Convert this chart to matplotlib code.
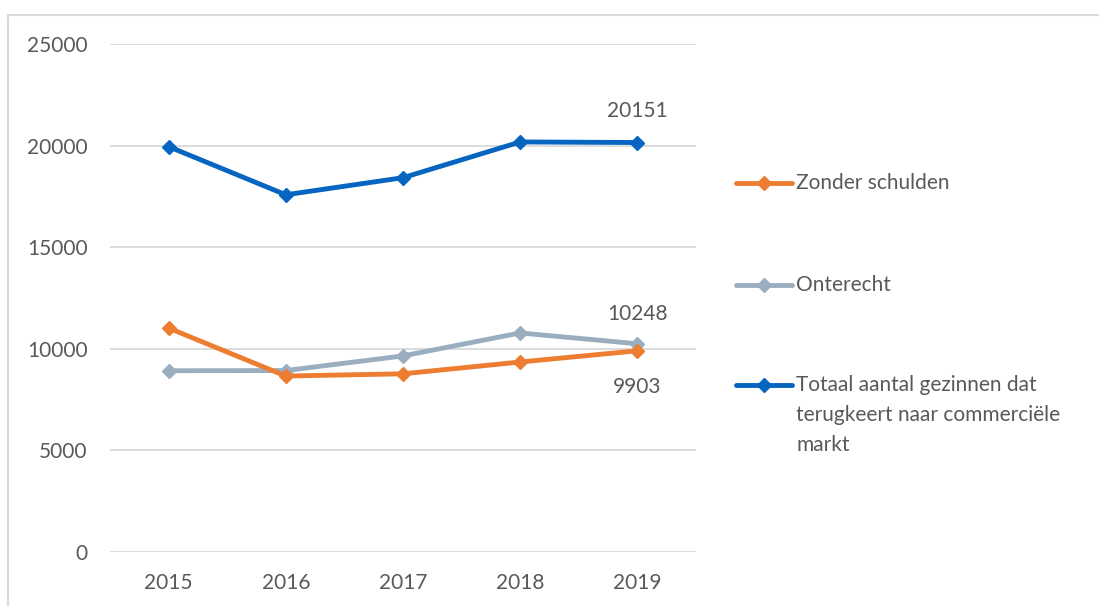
import matplotlib
matplotlib.use("Agg")
import matplotlib.pyplot as plt
from matplotlib.lines import Line2D

years = ["2015", "2016", "2017", "2018", "2019"]
zonder = [11020, 8660, 8770, 9350, 9903]
onterecht = [8920, 8930, 9650, 10780, 10248]
totaal = [19950, 17580, 18420, 20180, 20151]
labels = ["Zonder schulden", "Onterecht",
          "Totaal aantal gezinnen dat\nterugkeert naar commerciële\nmarkt"]
yticks = [0, 5000, 10000, 15000, 20000, 25000]

plt.rcParams['font.family'] = ['Lato', 'DejaVu Sans']
txt = '#595959'
fs = 15

fig = plt.figure(figsize=(10.99, 6.06), dpi=100)
ax = fig.add_axes([110/1099, 54/606, 586/1099, 508/606])

x = list(range(len(years)))
kw = dict(lw=3.5, marker='D', markersize=7.5, solid_joinstyle='round')
colors = ['#ED7D31', '#9AAEC0', '#0565C0']
l1, = ax.plot(x, zonder, color=colors[0], **kw, zorder=4)
l2, = ax.plot(x, onterecht, color=colors[1], **kw, zorder=3)
l3, = ax.plot(x, totaal, color=colors[2], **kw, zorder=5)

ax.set_xlim(-0.5, 4.5)
ax.set_ylim(0, 25000)
ax.set_yticks(yticks)
ax.set_yticklabels([str(v) for v in yticks])
ax.set_xticks(x)
ax.set_xticklabels(years)
ax.grid(axis='y', color='#D9D9D9', lw=1.3)
ax.set_axisbelow(True)
for s in ax.spines.values():
    s.set_visible(False)
ax.tick_params(length=0, labelsize=fs, labelcolor=txt)
ax.tick_params(axis='y', pad=16)
ax.tick_params(axis='x', pad=15)

ax.annotate(str(totaal[-1]), (x[-1], totaal[-1]), xytext=(0, 23), textcoords='offset points',
            ha='center', va='center', fontsize=fs, color=txt)
ax.annotate(str(onterecht[-1]), (x[-1], onterecht[-1]), xytext=(0, 21.5), textcoords='offset points',
            ha='center', va='center', fontsize=fs, color=txt)
ax.annotate(str(zonder[-1]), (x[-1], zonder[-1]), xytext=(0, -26), textcoords='offset points',
            ha='center', va='center', fontsize=fs, color=txt)

# legend (manual, to match the reference layout)
leg_y = [183, 285, 385]
for lab, col, yy in zip(labels, colors, leg_y):
    yf = 1 - yy/606
    fig.add_artist(Line2D([736/1099, 792/1099], [yf, yf], transform=fig.transFigure,
                          color=col, lw=3.5, solid_capstyle='round'))
    fig.add_artist(Line2D([764/1099], [yf], transform=fig.transFigure, color=col,
                          marker='D', markersize=7.5, lw=0))
    fig.text(796/1099, 1 - (yy - 10)/606, lab, ha='left', va='top', fontsize=fs, color=txt,
             linespacing=1.62, transform=fig.transFigure)

fig.add_artist(Line2D([8/1099, 8/1099], [0, 1-15/606], transform=fig.transFigure,
                      color='#D9D9D9', lw=1.5))
fig.add_artist(Line2D([8/1099, 1], [1-15/606, 1-15/606], transform=fig.transFigure,
                      color='#D9D9D9', lw=1.5))

fig.savefig("out.png", dpi=100)
